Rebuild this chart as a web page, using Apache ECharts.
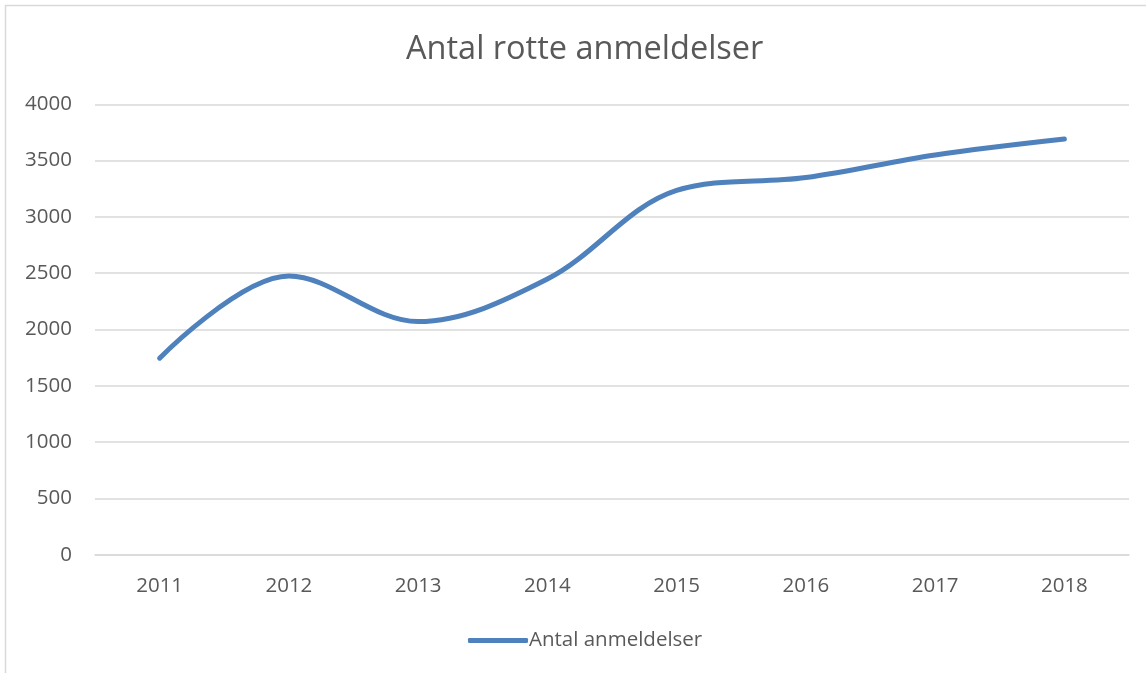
<!DOCTYPE html>
<html>
<head>
<meta charset="utf-8">
<script src="https://cdn.jsdelivr.net/npm/echarts@6/dist/echarts.min.js"></script>
<style>
html,body{margin:0;padding:0;background:#fff;}
#chart{width:1146px;height:673px;}
</style>
</head>
<body>
<div id="chart"></div>
<script>
const titleText = "Antal rotte anmeldelser";
const seriesName = "Antal anmeldelser";
const categories = ["2011","2012","2013","2014","2015","2016","2017","2018"];
const values = [1745, 2475, 2070, 2448, 3235, 3350, 3550, 3692];
const yTicks = [0, 500, 1000, 1500, 2000, 2500, 3000, 3500, 4000];

const chart = echarts.init(document.getElementById('chart'), null, {renderer: 'canvas'});
const font = '"Open Sans", "Noto Sans", sans-serif';
chart.setOption({
  animation: false,
  backgroundColor: '#ffffff',
  textStyle: {fontFamily: font},
  graphic: [{
    type: 'rect',
    shape: {x: 5.5, y: 5.5, width: 1150, height: 700},
    style: {fill: 'none', stroke: '#d9d9d9', lineWidth: 1.5},
    silent: true
  }],
  title: {
    text: titleText,
    left: 401,
    top: 28,
    textStyle: {fontFamily: font, fontSize: 32.5, fontWeight: 'normal', color: '#595959'}
  },
  legend: {
    data: [{name: seriesName, icon: 'roundRect'}],
    left: 463,
    top: 625,
    itemWidth: 60,
    itemHeight: 5,
    itemGap: 0,
    textStyle: {fontFamily: font, fontSize: 20.5, color: '#595959', padding: [0, 0, 0, -4]}
  },
  grid: {left: 95, right: 17, top: 104.3, bottom: 118.3, containLabel: false},
  xAxis: {
    type: 'category',
    data: categories,
    boundaryGap: true,
    axisLine: {lineStyle: {color: '#d9d9d9', width: 1.5}},
    axisTick: {show: false},
    axisLabel: {fontFamily: font, fontSize: 20.5, color: '#595959', margin: 21}
  },
  yAxis: {
    type: 'value',
    min: yTicks[0],
    max: yTicks[yTicks.length - 1],
    interval: yTicks[1] - yTicks[0],
    axisLine: {show: false},
    axisTick: {show: false},
    splitLine: {lineStyle: {color: '#d9d9d9', width: 1.5}},
    axisLabel: {fontFamily: font, fontSize: 20.5, color: '#595959', margin: 23,
      formatter: function (v) { return String(v); }}
  },
  series: [{
    name: seriesName,
    type: 'line',
    data: values,
    smooth: 0.35,
    showSymbol: false,
    symbol: 'none',
    lineStyle: {color: '#4f81bd', width: 5, cap: 'round', join: 'round'},
    itemStyle: {color: '#4f81bd'}
  }]
});
</script>
</body>
</html>
